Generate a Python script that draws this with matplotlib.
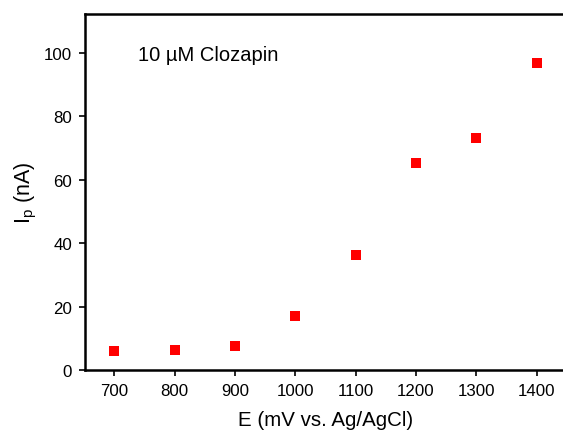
import matplotlib.pyplot as plt

# potential (mV vs. Ag/AgCl) and peak current (nA)
potential = [700, 800, 900, 1000, 1100, 1200, 1300, 1400]
current = [6.1, 6.3, 7.8, 17.1, 36.3, 65.2, 73.2, 96.9]
x_ticks = [700, 800, 900, 1000, 1100, 1200, 1300, 1400]
y_ticks = [0, 20, 40, 60, 80, 100]

plt.rcParams['font.family'] = ['Liberation Sans', 'DejaVu Sans']

fig = plt.figure(figsize=(5.63, 4.35), dpi=100)
ax = fig.add_axes([0.1505, 0.1464, 0.856, 0.8198])

ax.scatter(potential, current, marker='s', s=62, color='#ff0000', linewidths=0, zorder=3)

ax.set_xlim(651, 1450)
ax.set_ylim(0, 112.4)
ax.set_xticks(x_ticks)
ax.set_yticks(y_ticks)

for side in ['left', 'bottom', 'top']:
    ax.spines[side].set_linewidth(1.8)
ax.spines['right'].set_visible(False)
ax.tick_params(direction='out', length=4, width=1.2, labelsize=12.2, colors='black', pad=5)

ax.set_xlabel('E (mV vs. Ag/AgCl)', fontsize=14.8, labelpad=9)
ax.set_ylabel(r'I$_{\mathregular{p}}$ (nA)', fontsize=15.5, labelpad=4)

# annotation in the upper left corner
ax.text(0.111, 0.887, '10 µM Clozapin', transform=ax.transAxes,
        fontsize=14.5, va='center', ha='left')

fig.savefig('out.png', dpi=100)
